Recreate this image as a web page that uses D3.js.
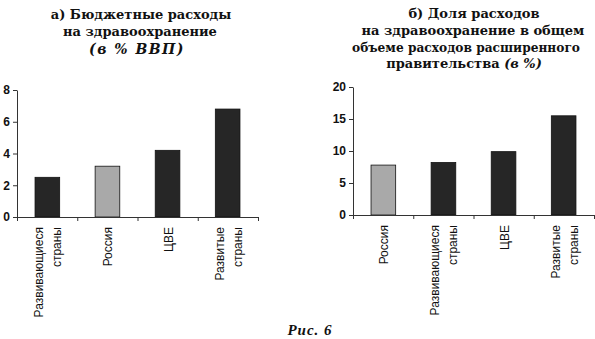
<!DOCTYPE html>
<html><head><meta charset="utf-8">
<script src="https://cdn.jsdelivr.net/npm/d3@7"></script>
<style>body{margin:0;background:#fff}svg{display:block}</style>
</head><body>
<svg id="c" width="595" height="339"></svg>
<script>
const catsA = [["Развивающиеся","страны"],["Россия"],["ЦВЕ"],["Развитые","страны"]];
const valsA = [2.5, 3.2, 4.2, 6.8];
const ticksA = [0, 2, 4, 6, 8];
const titleA = ["а) Бюджетные расходы", "на здравоохранение"];
const titleAItalic = "(в % ВВП)";

const catsB = [["Россия"],["Развивающиеся","страны"],["ЦВЕ"],["Развитые","страны"]];
const valsB = [7.8, 8.2, 9.9, 15.5];
const ticksB = [0, 5, 10, 15, 20];
const titleB = ["б) Доля расходов", "на здравоохранение в общем", "объеме расходов расширенного"];
const titleBLast = "правительства ";
const titleBItalic = "(в %)";
const caption = "Рис. 6";

const svg = d3.select("#c");
const dark = "#262626", light = "#a9a9a9";

function panel(cfg) {
  const g = svg.append("g");
  const x = d3.scaleBand().domain(cfg.cats.map((c,i)=>i)).range([cfg.x0, cfg.x1]).paddingInner(0.59).paddingOuter(0.3);
  const y = d3.scaleLinear().domain([0, cfg.ymax]).range([cfg.y0, cfg.y1]);
  g.selectAll("rect.bar").data(cfg.vals).join("rect")
    .attr("x", (d,i)=>x(i)).attr("width", x.bandwidth())
    .attr("y", d=>y(d)).attr("height", d=>cfg.y0 - y(d))
    .attr("fill", (d,i)=> cfg.cats[i][0]==="Россия" ? light : dark)
    .attr("stroke", "#111").attr("stroke-width", 0.8);
  const ya = g.append("g").attr("transform", `translate(${cfg.x0},0)`)
    .call(d3.axisLeft(y).tickValues(cfg.ticks).tickSize(4).tickPadding(3).tickSizeOuter(0));
  ya.select(".domain").attr("stroke", "#333");
  ya.selectAll("line").attr("stroke", "#333");
  ya.selectAll("text").attr("font-family", "Liberation Sans, Arial, sans-serif")
    .attr("font-weight", "bold").attr("font-size", 12).attr("fill", "#111");
  const xb = d3.scaleLinear().domain([0, cfg.cats.length]).range([cfg.x0, cfg.x1]);
  const xa = g.append("g").attr("transform", `translate(0,${cfg.y0})`)
    .call(d3.axisBottom(xb).tickValues(d3.range(0, cfg.cats.length+1)).tickSize(4).tickFormat("").tickSizeOuter(0));
  xa.select(".domain").attr("stroke", "#333");
  xa.selectAll("line").attr("stroke", "#333");
  cfg.cats.forEach((lines, i) => {
    const cx = x(i) + x.bandwidth()/2;
    lines.forEach((t, j) => {
      const off = lines.length === 1 ? 0 : (j === 0 ? -9 : 9);
      g.append("text")
        .attr("transform", `translate(${cx + off + 1},${cfg.y0 + 10}) rotate(-90)`)
        .attr("text-anchor", "end").attr("dominant-baseline", "central")
        .attr("font-family", "Liberation Sans, Arial, sans-serif")
        .attr("font-size", 12).attr("fill", "#111").text(t);
    });
  });
}

panel({cats: catsA, vals: valsA, ticks: ticksA, ymax: 8, x0: 17, x1: 258, y0: 217, y1: 90});
panel({cats: catsB, vals: valsB, ticks: ticksB, ymax: 20, x0: 353, x1: 594, y0: 215, y1: 87});

const tf = "DejaVu Serif, serif";
function tline(cx, y, t, opts) {
  const el = svg.append("text").attr("x", cx).attr("y", y).attr("text-anchor", "middle")
    .attr("font-family", tf).attr("font-weight", "bold").attr("font-size", 13).attr("fill", "#111");
  if (opts && opts.len) el.attr("textLength", opts.len).attr("lengthAdjust", "spacingAndGlyphs");
  el.text(t);
  return el;
}
tline(141, 19, titleA[0]);
tline(140, 36, titleA[1]);
svg.append("text").attr("x", 137).attr("y", 54).attr("text-anchor", "middle")
  .attr("font-family", tf).attr("font-weight", "bold").attr("font-style", "italic")
  .attr("font-size", 14).attr("letter-spacing", 1.5).attr("fill", "#111").text(titleAItalic);

tline(474, 18, titleB[0]);
tline(473, 35, titleB[1]);
tline(466, 51.5, titleB[2], {len: 228});
const t4 = svg.append("text").attr("x", 464).attr("y", 68.4).attr("text-anchor", "middle")
  .attr("font-family", tf).attr("font-weight", "bold").attr("font-size", 13).attr("fill", "#111");
t4.append("tspan").text(titleBLast);
t4.append("tspan").attr("font-style", "italic").text(titleBItalic);

svg.append("text").attr("x", 310).attr("y", 335).attr("text-anchor", "middle")
  .attr("font-family", "Liberation Serif, serif").attr("font-weight", "bold").attr("font-style", "italic")
  .attr("font-size", 15).attr("letter-spacing", 1).attr("fill", "#111").text(caption);
</script>
</body></html>
